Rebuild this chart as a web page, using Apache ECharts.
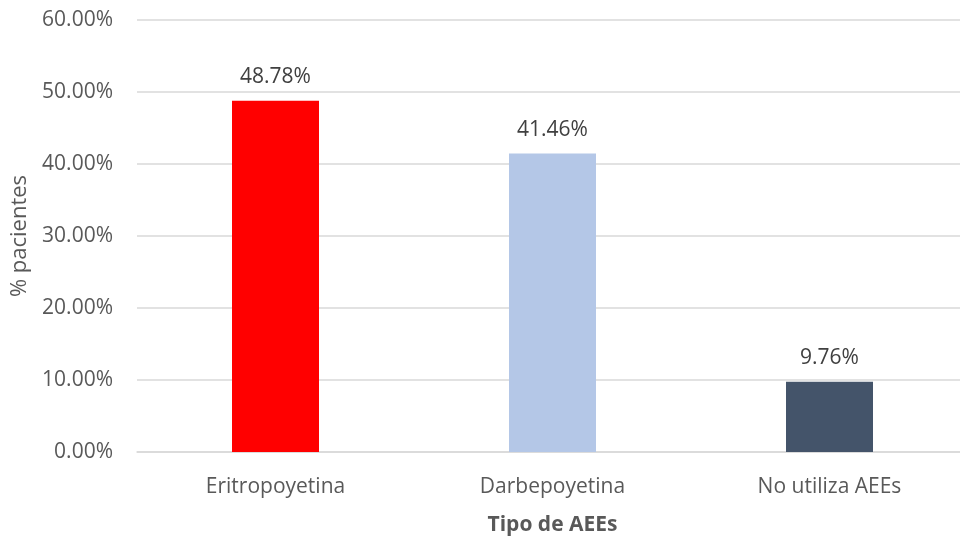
<!DOCTYPE html>
<html style="height: 100%">
<head>
    <meta charset="utf-8">
    <script type="text/javascript" src="https://cdn.jsdelivr.net/npm/echarts@6/dist/echarts.min.js"></script>
</head>
<body style="height: 100%; margin: 0">
    <div id="chart" style="height: 537px;width: 960px;"></div>
    <script type="text/javascript">
        var categories = ['Eritropoyetina', 'Darbepoyetina', 'No utiliza AEEs'];
        var values = [48.78, 41.46, 9.76];
        var barColors = ['#FF0000', '#B4C7E7', '#44546A'];

        var font = 'Open Sans';
        var textColor = '#595959';

        var chart = echarts.init(document.getElementById('chart'));
        var option = {
            animation: false,
            grid: {
                left: 137, top: 20, width: 831, height: 432,
                containLabel: false,
                outerBoundsMode: 'none'   // let the grid run past the right edge like the original
            },
            xAxis: {
                type: 'category',
                data: categories,
                name: 'Tipo de AEEs',
                nameLocation: 'middle',
                nameGap: 63,
                nameTextStyle: { color: textColor, fontFamily: font, fontSize: 21, fontWeight: 'bold' },
                axisLine: { lineStyle: { color: '#D9D9D9', width: 1.5 } },
                axisTick: { show: false },
                axisLabel: { color: textColor, fontFamily: font, fontSize: 21, margin: 25 }
            },
            yAxis: {
                type: 'value',
                min: 0, max: 60, interval: 10,
                name: '% pacientes',
                nameLocation: 'middle',
                nameGap: 105,
                nameTextStyle: { color: textColor, fontFamily: font, fontSize: 22 },
                axisLine: { show: false },
                axisTick: { show: false },
                splitLine: { lineStyle: { color: '#D9D9D9', width: 1.5 } },
                axisLabel: {
                    color: textColor, fontFamily: font, fontSize: 21, margin: 24,
                    formatter: function (v) { return v.toFixed(2) + '%'; }
                }
            },
            series: [{
                type: 'bar',
                barWidth: 87,
                data: values.map(function (v, i) {
                    return { value: v, itemStyle: { color: barColors[i] } };
                }),
                label: {
                    show: true,
                    position: 'top',
                    distance: 13,
                    color: '#404040',
                    fontFamily: font,
                    fontSize: 21,
                    formatter: function (p) { return p.value.toFixed(2) + '%'; }
                }
            }]
        };
        chart.setOption(option);
    </script>
</body>
</html>
